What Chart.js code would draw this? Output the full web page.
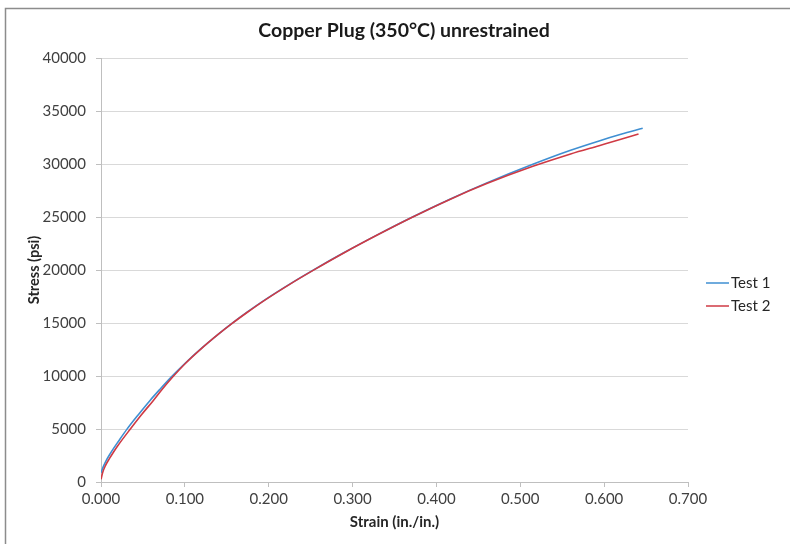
<!DOCTYPE html>
<html>
<head>
<meta charset="utf-8">
<script src="https://cdn.jsdelivr.net/npm/chart.js@4/dist/chart.umd.min.js"></script>
<style>
  html, body { margin: 0; padding: 0; background: #fff; }
  #wrap { width: 790px; height: 544px; position: relative; }
</style>
</head>
<body>
<div id="wrap"><canvas id="c" width="790" height="544"></canvas></div>
<script>
// values
const chartTitle = "Copper Plug (350°C) unrestrained";
const seriesNames = ["Test 1", "Test 2"];
const test1Strain = [0.000, 0.003, 0.006, 0.010, 0.015, 0.020, 0.031, 0.045, 0.058, 0.070, 0.084, 0.100, 0.120, 0.140, 0.155, 0.175, 0.195, 0.225, 0.254, 0.290, 0.330, 0.369, 0.416, 0.460, 0.515, 0.560, 0.594, 0.620, 0.646];
const test1Stress = [880, 1500, 2000, 2550, 3170, 3750, 4990, 6400, 7650, 8720, 9920, 11180, 12630, 13960, 14900, 16070, 17160, 18670, 20040, 21650, 23340, 24910, 26680, 28220, 29980, 31300, 32180, 32800, 33370];
const test2Strain = [0.000, 0.002, 0.005, 0.010, 0.015, 0.020, 0.035, 0.048, 0.062, 0.073, 0.086, 0.100, 0.120, 0.140, 0.156, 0.175, 0.195, 0.225, 0.255, 0.290, 0.330, 0.370, 0.416, 0.460, 0.515, 0.560, 0.594, 0.620, 0.641];
const test2Stress = [250, 900, 1500, 2200, 2830, 3420, 5000, 6320, 7650, 8750, 9950, 11130, 12600, 13940, 14940, 16040, 17140, 18650, 20060, 21630, 23320, 24930, 26660, 28150, 29780, 30950, 31730, 32330, 32830];
const yTicks = [0, 5000, 10000, 15000, 20000, 25000, 30000, 35000, 40000];
const xTicks = [0, 0.1, 0.2, 0.3, 0.4, 0.5, 0.6, 0.7];
const seriesColors = ["#3f8fd2", "#cf3a44"];

const pts = (xs, ys) => xs.map((x, i) => ({ x: x, y: ys[i] }));

// grey frame on top and left, title centred on the page, legend on the right
const framePlugin = {
  id: "frame",
  afterDraw(chart) {
    const ctx = chart.ctx;
    ctx.save();
    ctx.strokeStyle = "#8c8c8c";
    ctx.lineWidth = 1.5;
    ctx.beginPath();
    ctx.moveTo(5.5, 544);
    ctx.lineTo(5.5, 8.5);
    ctx.lineTo(790, 8.5);
    ctx.stroke();

    ctx.fillStyle = "#1a1a1a";
    ctx.font = "bold 19.5px Lato";
    ctx.textAlign = "center";
    ctx.textBaseline = "middle";
    ctx.fillText(chartTitle, 404, 31);

    // legend
    ctx.font = "15px Lato";
    ctx.textAlign = "left";
    chart.data.datasets.forEach((ds, i) => {
      const y = 283 + i * 23;
      ctx.strokeStyle = ds.borderColor;
      ctx.lineWidth = 1.5;
      ctx.beginPath();
      ctx.moveTo(706, y);
      ctx.lineTo(729, y);
      ctx.stroke();
      ctx.fillStyle = "#262626";
      ctx.fillText(ds.label, 731, y);
    });
    ctx.restore();
  }
};

new Chart(document.getElementById("c").getContext("2d"), {
  type: "line",
  data: {
    datasets: [
      { label: seriesNames[0], data: pts(test1Strain, test1Stress), borderColor: seriesColors[0], borderWidth: 1.6, pointRadius: 0, cubicInterpolationMode: "monotone", fill: false, order: 1 },
      { label: seriesNames[1], data: pts(test2Strain, test2Stress), borderColor: seriesColors[1], borderWidth: 1.6, pointRadius: 0, cubicInterpolationMode: "monotone", fill: false, order: 0 }
    ]
  },
  options: {
    responsive: false,
    animation: false,
    layout: { padding: { left: 5, top: 58, right: 102, bottom: 0 } },
    plugins: {
      legend: { display: false },
      tooltip: { enabled: false },
      title: { display: false }
    },
    scales: {
      x: {
        type: "linear",
        min: 0,
        max: 0.7,
        afterBuildTicks: (s) => { s.ticks = xTicks.map(v => ({ value: v })); },
        afterFit: (s) => { s.height = 62; },
        ticks: {
          callback: (v) => Number(v).toFixed(3),
          color: "#404040",
          font: { family: "Lato", size: 15 },
          padding: 3,
          maxRotation: 0
        },
        grid: { drawOnChartArea: false, drawTicks: true, tickLength: 5, color: "#bfbfbf" },
        border: { color: "#bfbfbf" },
        title: {
          display: true,
          text: "Strain (in./in.)",
          color: "#262626",
          font: { family: "Lato", size: 15, weight: "bold", lineHeight: 1.2 },
          padding: { top: 0, bottom: 13 }
        }
      },
      y: {
        min: 0,
        max: 40000,
        afterBuildTicks: (s) => { s.ticks = yTicks.map(v => ({ value: v })); },
        afterFit: (s) => { s.width = 96; },
        ticks: {
          callback: (v) => String(v),
          color: "#404040",
          font: { family: "Lato", size: 15 },
          padding: 10
        },
        grid: { color: "#d9d9d9", tickLength: 5, tickColor: "#bfbfbf" },
        border: { color: "#bfbfbf" },
        title: {
          display: true,
          text: "Stress (psi)",
          color: "#262626",
          font: { family: "Lato", size: 14.5, weight: "bold", lineHeight: 1.2 },
          padding: { top: 21, bottom: 0 }
        }
      }
    }
  },
  plugins: [framePlugin]
});
</script>
</body>
</html>
